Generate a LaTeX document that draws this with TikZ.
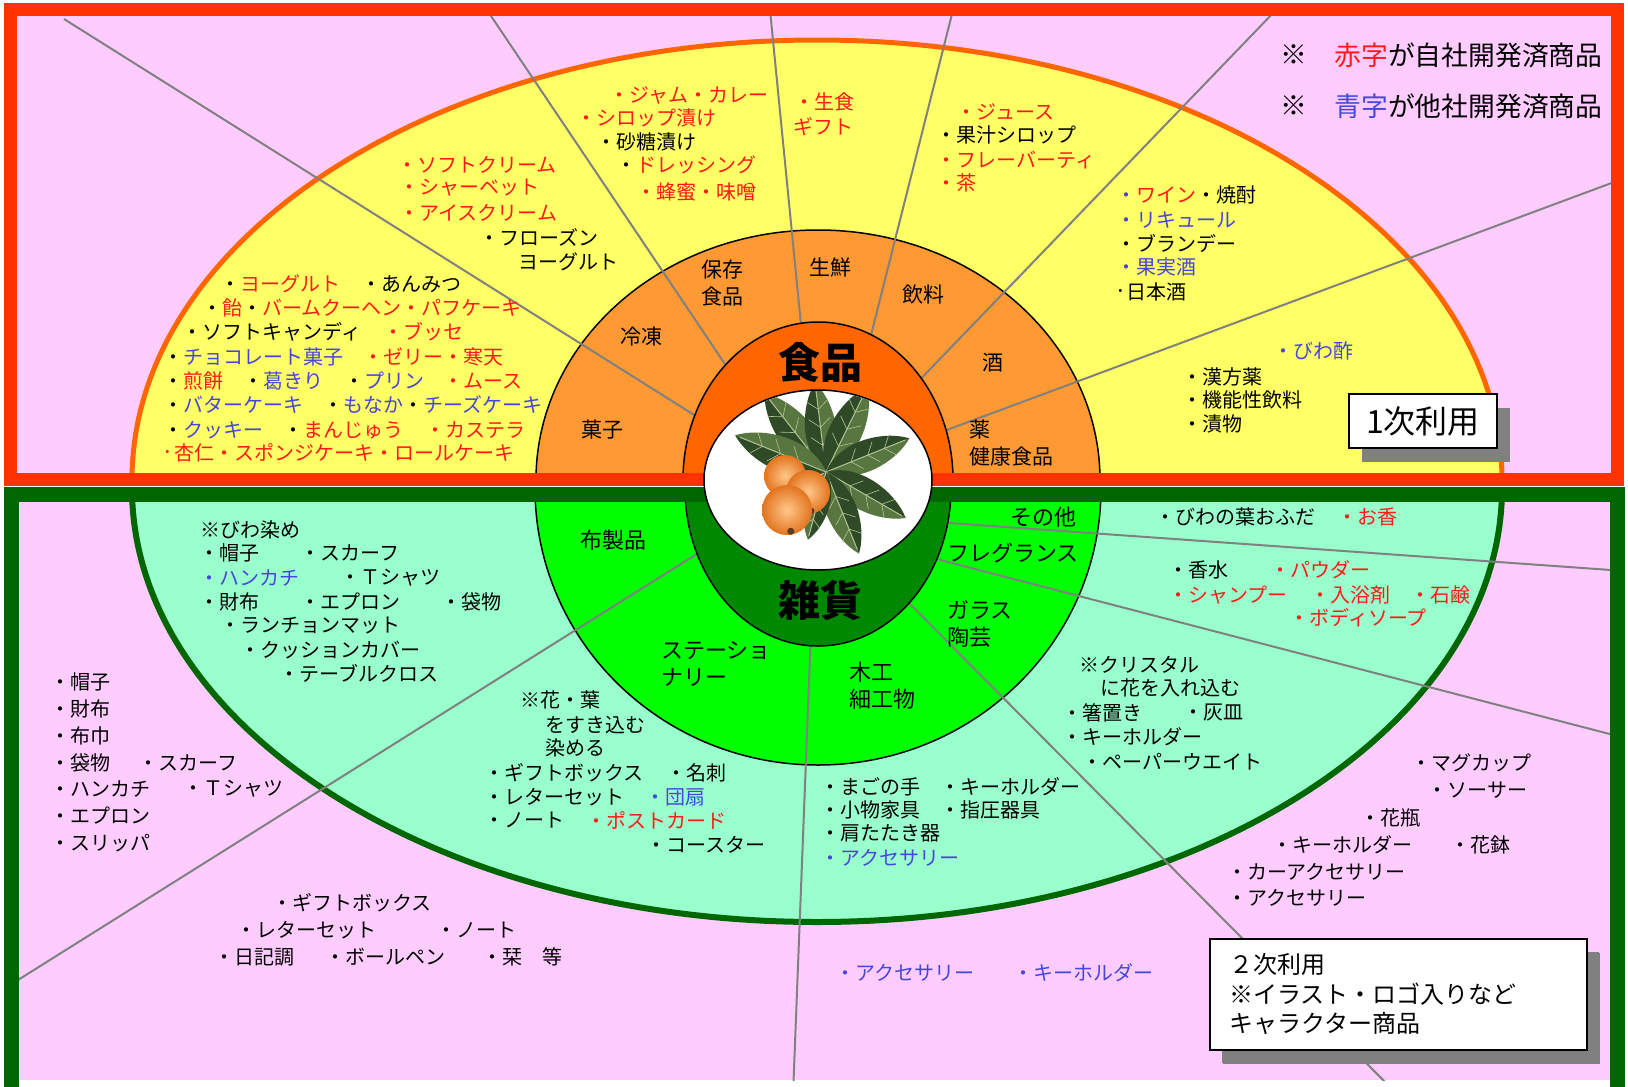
\documentclass[tikz,border=0pt]{standalone}
\usepackage{fontspec}
\setmainfont{Noto Sans CJK JP}
\usetikzlibrary{shadows}

\definecolor{bgpink}{HTML}{FFCCFF}
\definecolor{fyellow}{HTML}{FFFF66}
\definecolor{ringorange}{HTML}{FF9933}
\definecolor{coreorange}{HTML}{FF6600}
\definecolor{framered}{HTML}{FF3300}
\definecolor{framegreen}{HTML}{006600}
\definecolor{aqua}{HTML}{99FFCC}
\definecolor{ringgreen}{HTML}{00FF00}
\definecolor{coregreen}{HTML}{008800}
\definecolor{txtred}{HTML}{FF1A1A}
\definecolor{txtblue}{HTML}{4646DC}
\definecolor{spoke}{HTML}{808080}
\definecolor{shadowgray}{HTML}{808080}
\definecolor{leafdark}{HTML}{2F4A26}
\definecolor{leafmid}{HTML}{58763F}
\definecolor{leafvein}{HTML}{B4C496}
\definecolor{fruitlight}{HTML}{FFC78A}
\definecolor{fruitdark}{HTML}{E2741E}
\definecolor{calyx}{HTML}{5A3A22}

\newcommand\cR[1]{\textcolor{txtred}{#1}}
\newcommand\cB[1]{\textcolor{txtblue}{#1}}
\newcommand\smalldot{{\fontsize{6}{6}\selectfont •}}
\newcounter{lbl}
\newcommand\itm[3]{\stepcounter{lbl}\node[item] (item\arabic{lbl}) at (#1,#2) {#3};}
% one leaf: start x, start y, direction angle, length
\newcommand\leaf[4]{%
  \begin{scope}[shift={(#1,#2)},rotate=#3]
    \fill[leafmid] (0,0) .. controls (0.25*#4,0.26*#4) and (0.75*#4,0.2*#4) .. (#4,0) -- cycle;
    \fill[leafdark] (0,0) .. controls (0.25*#4,-0.26*#4) and (0.75*#4,-0.2*#4) .. (#4,0) -- cycle;
    \draw[leafvein,line width=0.5pt] (0,0) -- (0.95*#4,0);
    \foreach \f in {0.3,0.5,0.7}
      \draw[leafvein,line width=0.3pt] (\f*#4,0) -- (\f*#4+0.1*#4,0.12*#4)
                                       (\f*#4,0) -- (\f*#4+0.1*#4,-0.12*#4);
  \end{scope}}
% one fruit: x, y, radius
\newcommand\fruit[3]{%
  \shade[inner color=fruitlight,outer color=fruitdark] (#1,#2) circle [radius=#3];
  \fill[calyx] (#1+0.15*#3,#2+0.85*#3) circle [radius=0.14*#3];}

\begin{document}
\begin{tikzpicture}[x=0.5pt,y=-0.5pt,
  item/.style={anchor=west,inner sep=0pt,font=\fontsize{10}{12}\selectfont},
  ringlbl/.style={inner sep=0pt,align=center,font=\fontsize{10.5}{13.5}\selectfont},
  ringlblL/.style={inner sep=0pt,align=left,anchor=west,font=\fontsize{10.5}{13.5}\selectfont},
  ringlblG/.style={inner sep=0pt,align=left,anchor=west,font=\fontsize{11}{13.5}\selectfont},
  corelbl/.style={inner sep=0pt,font=\fontsize{21}{24}\selectfont\bfseries},
  spokeline/.style={draw=spoke,line width=1pt},
  ringedge/.style={draw=black,line width=0.75pt},
  usebox/.style={draw=black,fill=white,line width=1pt,
    drop shadow={shadow xshift=6.5pt,shadow yshift=-7pt,fill=shadowgray,opacity=1}},
  legend/.style={anchor=west,inner sep=0pt,font=\fontsize{13.4}{16}\selectfont}]

\fill[white] (0,0) rectangle (1628,1087);
\useasboundingbox (0,0) rectangle (1628,1087);
\clip (0,0) rectangle (1628,1087);

% ---------- upper half: food ----------
\coordinate (l1o) at (64,19);    \coordinate (l1i) at (707,423);
\coordinate (l2o) at (487,10);   \coordinate (l2i) at (735,379);
\coordinate (l3o) at (770,10);   \coordinate (l3i) at (803,345);
\coordinate (l4o) at (953,10);   \coordinate (l4i) at (866,355);
\coordinate (l5o) at (1276,10);  \coordinate (l5i) at (910,390);
\coordinate (l6o) at (1625,178); \coordinate (l6i) at (936,434);

\fill[bgpink] (17,16) rectangle (1611,473);
\begin{scope}
  \clip (17,16) rectangle (1611,473);
  \filldraw[fill=fyellow,draw=coreorange,line width=2.5pt] (817,480) ellipse [x radius=685,y radius=440];
  \filldraw[fill=ringorange,ringedge] (818,480) ellipse [x radius=282,y radius=250];
  \foreach \k in {1,...,6} \draw[spokeline] (l\k o) -- (l\k i);
  \filldraw[fill=coreorange,ringedge] (818,480) ellipse [x radius=135,y radius=158];
\end{scope}
\draw[framered,line width=6.5pt] (10.5,9.5) rectangle (1617.5,479.5);

% ---------- lower half: goods ----------
\coordinate (b1o) at (10,985);   \coordinate (b1i) at (708,547);
\coordinate (b2o) at (793,1095); \coordinate (b2i) at (811,630);
\coordinate (b3o) at (1398,1095);\coordinate (b3i) at (900,594);
\coordinate (b4o) at (1625,571); \coordinate (b4i) at (935,522);
\coordinate (b5o) at (1625,738); \coordinate (b5i) at (925,556);

\fill[bgpink] (18,502) rectangle (1610,1080);
\begin{scope}
  \clip (18,502) rectangle (1610,1080);
  \filldraw[fill=aqua,draw=framegreen,line width=3pt] (817,488) ellipse [x radius=685,y radius=434];
  \filldraw[fill=ringgreen,ringedge] (818,488) ellipse [x radius=283,y radius=277];
  \foreach \k in {1,...,5} \draw[spokeline] (b\k o) -- (b\k i);
  \filldraw[fill=coregreen,ringedge] (818,488) ellipse [x radius=133,y radius=158];
\end{scope}
\draw[framegreen,line width=7.5pt] (11,494) rectangle (1617,1094);

% ---------- centre: loquat branch ----------
\filldraw[fill=white,draw=black,line width=0.75pt] (818,480) ellipse [x radius=114,y radius=90];
\begin{scope}
  \clip (818,480) ellipse [x radius=113,y radius=89];
  \leaf{826}{472}{128}{100}
  \leaf{826}{472}{97}{90}
  \leaf{826}{472}{64}{95}
  \leaf{826}{472}{22}{90}
  \leaf{826}{472}{-30}{92}
  \leaf{826}{472}{-68}{88}
  \leaf{826}{472}{-105}{70}
  \leaf{826}{472}{158}{98}
  \fruit{785}{476}{21}
  \fruit{808}{492}{22}
  \fruit{787}{510}{25}
\end{scope}

% ---------- ring labels ----------
\node[corelbl] (food) at (820,362) {食品};
\node[corelbl] (goods) at (820,600) {雑貨};

\node[ringlbl] (r1) at (722,283.5) {保存\\食品};
\node[ringlbl] (r2) at (830,268) {生鮮};
\node[ringlbl] (r3) at (923,295) {飲料};
\node[ringlbl] (r4) at (641,337) {冷凍};
\node[ringlbl] (r5) at (993,363) {酒};
\node[ringlbl] (r6) at (602,430) {菓子};
\node[ringlblL] (r7) at (969,443.5) {薬\\健康食品};

\node[ringlblG] (g1) at (580,540) {布製品};
\node[ringlblG] (g2) at (661,664) {ステーショ\\ナリー};
\node[ringlblG] (g3) at (849,686) {木工\\細工物};
\node[ringlblG] (g4) at (947,623.5) {ガラス\\陶芸};
\node[ringlblG] (g5) at (947,553) {フレグランス};
\node[ringlblG] (g6) at (1010,517) {その他};

% ---------- sweets ----------
\itm{220}{284}{・\cR{ヨーグルト}}
\itm{361}{284}{・あんみつ}
\itm{202}{308}{・\cR{飴}・\cR{バームクーヘン・パフケーキ}}
\itm{182}{332}{・ソフトキャンディ}
\itm{383}{332}{\cR{・ブッセ}}
\itm{163}{357}{・\cB{チョコレート菓子}}
\itm{363}{357}{\cR{・ゼリー・寒天}}
\itm{163}{381}{・\cR{煎餅}}
\itm{243}{381}{・\cB{葛きり}}
\itm{344}{381}{・\cB{プリン}}
\itm{443}{381}{\cR{・ムース}}
\itm{163}{405}{・\cB{バターケーキ}}
\itm{323}{405}{・\cB{もなか}・\cB{チーズケーキ}}
\itm{163}{430}{・\cB{クッキー}}
\itm{283}{430}{・\cR{まんじゅう}}
\itm{425}{430}{\cR{・カステラ}}
\itm{165}{453}{\cR{\smalldot}}
\itm{174}{453}{\cR{杏仁・スポンジケーキ・ロールケーキ}}

% ---------- frozen ----------
\itm{397}{165}{\cR{・ソフトクリーム}}
\itm{399}{188}{\cR{・シャーベット}}
\itm{399}{213}{\cR{・アイスクリーム}}
\itm{479}{237}{・フローズン}
\itm{518}{262}{ヨーグルト}

% ---------- preserved food ----------
\itm{609}{95}{\cR{・ジャム・カレー}}
\itm{576}{118}{\cR{・シロップ漬け}}
\itm{596}{142}{・砂糖漬け}
\itm{616}{165}{・\cR{ドレッシング}}
\itm{636}{192}{\cR{・蜂蜜・味噌}}

% ---------- fresh ----------
\itm{794}{102}{\cR{・生食}}
\itm{793}{127}{\cR{ギフト}}

% ---------- drinks ----------
\itm{956}{112}{\cR{・ジュース}}
\itm{936}{135}{・果汁シロップ}
\itm{936}{160}{\cR{・フレーバーティ}}
\itm{936}{183}{\cR{・茶}}

% ---------- liquor ----------
\itm{1116}{195}{\cB{・}\cR{ワイン}・焼酎}
\itm{1116}{220}{\cB{・リキュール}}
\itm{1116}{243}{・ブランデー}
\itm{1116}{267}{\cB{・果実酒}}
\itm{1118}{292}{\smalldot}
\itm{1126}{292}{日本酒}

% ---------- medicine ----------
\itm{1273}{351}{\cB{・びわ酢}}
\itm{1182}{377}{・漢方薬}
\itm{1182}{400}{・機能性飲料}
\itm{1182}{424}{・漬物}

% ---------- legend ----------
\node[legend] (leg1a) at (1280,55) {※};
\node[legend] (leg1b) at (1334,55) {\cR{赤字}が自社開発済商品};
\node[legend] (leg2a) at (1280,106) {※};
\node[legend] (leg2b) at (1334,106) {\cB{青字}が他社開発済商品};

\node[usebox,minimum width=74pt,minimum height=27pt,inner sep=0pt,
  font=\fontsize{16}{18}\selectfont] (use1) at (1423,421) {1次利用};

% ---------- textiles ----------
\itm{200}{530}{※びわ染め}
\itm{199}{553}{・帽子}
\itm{300}{553}{・スカーフ}
\itm{199}{578}{\cB{・ハンカチ}}
\itm{340}{578}{・Ｔシャツ}
\itm{199}{602}{・財布}
\itm{300}{602}{・エプロン}
\itm{441}{602}{・袋物}
\itm{220}{625}{・ランチョンマット}
\itm{240}{650}{・クッションカバー}
\itm{279}{673}{・テーブルクロス}

% ---------- stationery ----------
\itm{520}{700}{※花・葉}
\itm{545}{725}{をすき込む}
\itm{545}{748}{染める}
\itm{484}{773}{・ギフトボックス}
\itm{666}{773}{・名刺}
\itm{484}{797}{・レターセット}
\itm{645}{797}{\cB{・団扇}}
\itm{484}{820}{・ノート}
\itm{586}{820}{\cR{・ポストカード}}
\itm{646}{845}{・コースター}

% ---------- woodwork ----------
\itm{820}{787}{・まごの手}
\itm{940}{787}{・キーホルダー}
\itm{820}{810}{・小物家具}
\itm{940}{810}{・指圧器具}
\itm{820}{833}{・肩たたき器}
\itm{820}{858}{\cB{・アクセサリー}}

% ---------- glass ----------
\itm{1079}{665}{※クリスタル}
\itm{1100}{688}{に花を入れ込む}
\itm{1062}{713}{・箸置き}
\itm{1183}{713}{・灰皿}
\itm{1062}{737}{・キーホルダー}
\itm{1082}{762}{・ペーパーウエイト}

% ---------- fragrance ----------
\itm{1168}{570}{・香水}
\itm{1270}{570}{\cR{・パウダー}}
\itm{1168}{595}{\cR{・シャンプー}}
\itm{1310}{595}{\cR{・入浴剤}}
\itm{1410}{595}{\cR{・石鹸}}
\itm{1289}{618}{\cR{・ボディソープ}}

% ---------- others ----------
\itm{1155}{517}{・びわの葉おふだ}
\itm{1337}{517}{\cR{・お香}}

% ---------- secondary use ----------
\itm{50}{682}{・帽子}
\itm{50}{709}{・財布}
\itm{50}{736}{・布巾}
\itm{50}{763}{・袋物}
\itm{138}{763}{・スカーフ}
\itm{50}{789}{・ハンカチ}
\itm{183}{789}{・Ｔシャツ}
\itm{50}{816}{・エプロン}
\itm{50}{843}{・スリッパ}

\itm{272}{903}{・ギフトボックス}
\itm{236}{930}{・レターセット}
\itm{436}{930}{・ノート}
\itm{214}{957}{・日記調}
\itm{325}{957}{・ボールペン}
\itm{482}{957}{・栞　等}

\itm{835}{973}{\cB{・アクセサリー}}
\itm{1013}{973}{\cB{・キーホルダー}}

\itm{1411}{763}{・マグカップ}
\itm{1427}{790}{・ソーサー}
\itm{1360}{818}{・花瓶}
\itm{1272}{845}{・キーホルダー}
\itm{1450}{845}{・花鉢}
\itm{1227}{872}{・カーアクセサリー}
\itm{1227}{898}{・アクセサリー}

\node[usebox,drop shadow={shadow xshift=6pt,shadow yshift=-6.5pt,fill=shadowgray,opacity=1},
  minimum width=188.5pt,minimum height=55.5pt,inner xsep=9.5pt,inner ysep=0pt,
  text width=169.5pt,align=left,font=\fontsize{12}{14.75}\selectfont]
  (use2) at (1398.5,994.5) {２次利用\\※イラスト・ロゴ入りなど\\キャラクター商品};
\end{tikzpicture}
\end{document}
